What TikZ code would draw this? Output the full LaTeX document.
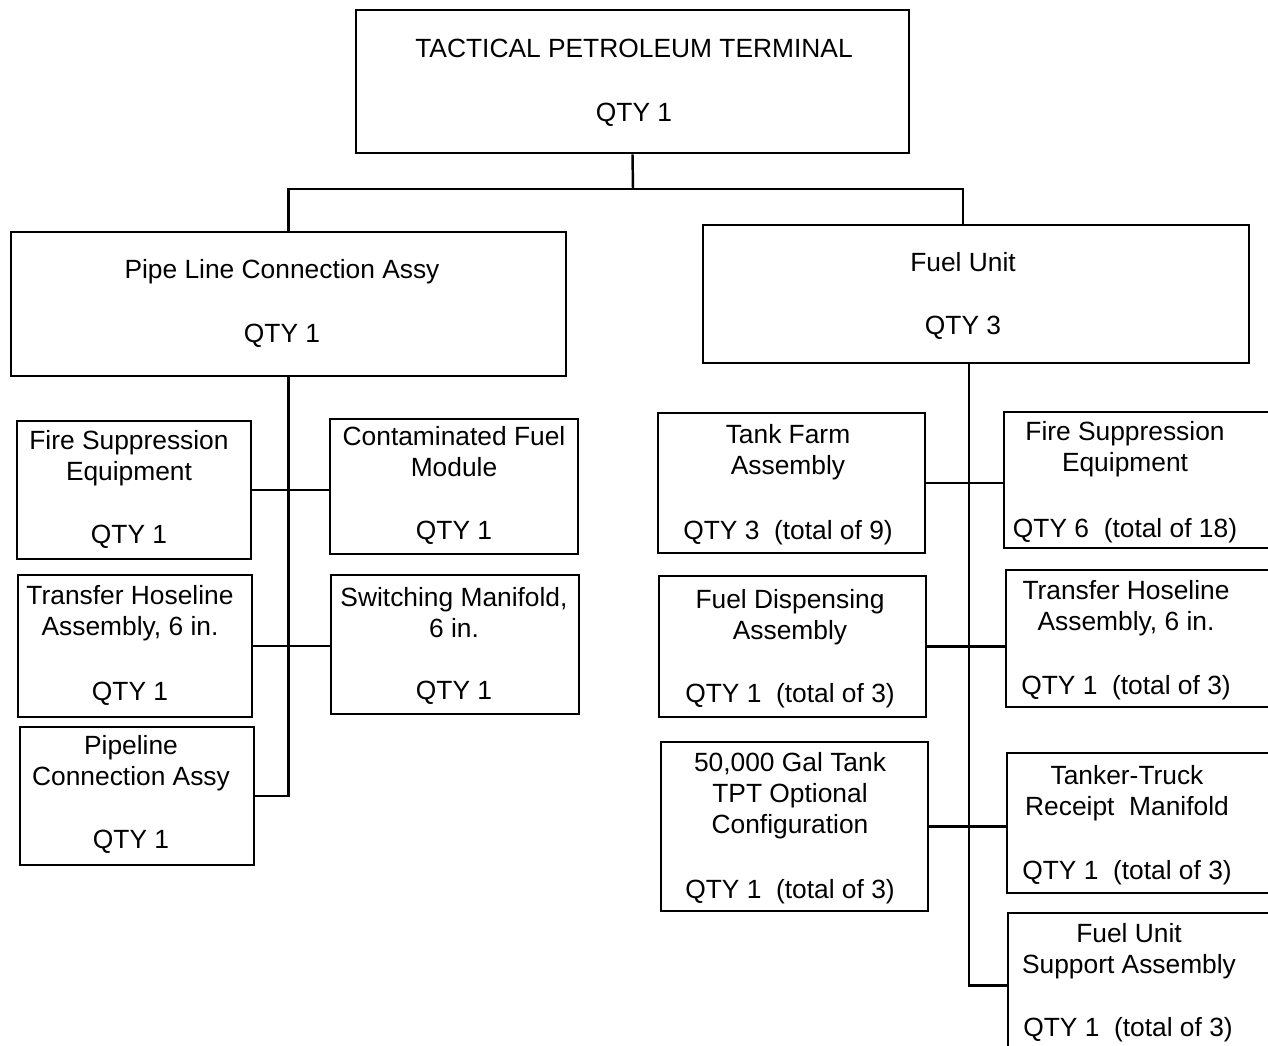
\documentclass[tikz,border=0pt]{standalone}
\usepackage{fontspec}
\setmainfont{Liberation Sans}
\usetikzlibrary{fit}

\begin{document}
\begin{tikzpicture}[x=0.02cm, y=-0.02cm,
    box/.style={draw, line width=1.6pt, inner sep=0pt},
    link/.style={line width=1.4pt},
    lbl/.style={align=center, inner sep=0pt, font=\fontsize{15}{17.6}\selectfont},
    qty/.style={lbl, anchor=base}]
    \useasboundingbox (0,0) rectangle (1268,1045);
    \clip (0,0) rectangle (1268,1045);

    % Top level
    \node[box, fit={(356,10) (909,153)}] (tpt) {};
    \node[lbl] (tptT) at (634,48) {TACTICAL PETROLEUM TERMINAL};
    \node[qty] (tptQ) at (634,121) {QTY 1};

    % Second level
    \node[box, fit={(11,232) (566,376)}] (pla) {};
    \node[lbl] (plaT) at (282,272) {Pipe Line Connection Assy};
    \node[qty] (plaQ) at (282,342) {QTY 1};

    \node[box, fit={(703,225) (1249,363)}] (fu) {};
    \node[lbl] (fuT) at (963,262) {Fuel Unit};
    \node[qty] (fuQ) at (963,334) {QTY 3};

    \coordinate (bus) at (633,189);
    \coordinate (fuin) at (963,225);
    \draw[link] (tpt.south) -- (bus);
    \draw[link] (pla.north) |- (bus) -| (fuin);

    % Pipe line connection branch
    \node[box, fit={(17,421) (251,559)}] (fse) {};
    \node[lbl] (fseT) at (129,458) {Fire Suppression\\Equipment};
    \node[qty] (fseQ) at (129,543) {QTY 1};

    \node[box, fit={(18,575) (252,717)}] (thl) {};
    \node[lbl] (thlT) at (130,613) {Transfer Hoseline\\Assembly, 6 in.};
    \node[qty] (thlQ) at (130,700) {QTY 1};

    \node[box, fit={(20,727) (254,865)}] (pca) {};
    \node[lbl] (pcaT) at (131,763) {Pipeline\\Connection Assy};
    \node[qty] (pcaQ) at (131,848) {QTY 1};

    \node[box, fit={(330,419) (578,554)}] (cfm) {};
    \node[lbl] (cfmT) at (454,452) {Contaminated Fuel\\Module};
    \node[qty] (cfmQ) at (454,539) {QTY 1};

    \node[box, fit={(331,575) (579,714)}] (swm) {};
    \node[lbl] (swmT) at (454,613) {Switching Manifold,\\6 in.};
    \node[qty] (swmQ) at (454,699) {QTY 1};

    \draw[link] (pla.south) |- (pca.east);
    \draw[link] (fse.east) -- (fse.east -| cfm.west);
    \draw[link] (thl.east) -- (thl.east -| swm.west);

    % Fuel unit branch
    \node[box, fit={(658,413) (925,553)}] (tfa) {};
    \node[lbl] (tfaT) at (788,452) {Tank Farm\\Assembly};
    \node[qty] (tfaQ) at (788,539) {QTY 3~~(total of 9)};

    \node[box, fit={(659,576) (926,717)}] (fda) {};
    \node[lbl] (fdaT) at (790,617) {Fuel Dispensing\\Assembly};
    \node[qty] (fdaQ) at (790,702) {QTY 1~~(total of 3)};

    \node[box, fit={(661,742) (928,911)}] (gal) {};
    \node[lbl] (galT) at (790,796) {50,000 Gal Tank\\TPT Optional\\Configuration};
    \node[qty] (galQ) at (790,898) {QTY 1~~(total of 3)};

    \node[box, fit={(1004,412) (1280,548)}] (fse2) {};
    \node[lbl] (fse2T) at (1125,449) {Fire Suppression\\Equipment};
    \node[qty] (fse2Q) at (1125,537) {QTY 6~~(total of 18)};

    \node[box, fit={(1006,570) (1280,707)}] (thl2) {};
    \node[lbl] (thl2T) at (1126,608) {Transfer Hoseline\\Assembly, 6 in.};
    \node[qty] (thl2Q) at (1126,694) {QTY 1~~(total of 3)};

    \node[box, fit={(1007,753) (1280,893)}] (ttr) {};
    \node[lbl] (ttrT) at (1127,793) {Tanker-Truck\\Receipt~~Manifold};
    \node[qty] (ttrQ) at (1127,879) {QTY 1~~(total of 3)};

    \node[box, fit={(1008,913) (1280,1058)}] (fusa) {};
    \node[lbl] (fusaT) at (1129,951) {Fuel Unit\\Support Assembly};
    \node[qty] (fusaQ) at (1128,1036) {QTY 1~~(total of 3)};

    \coordinate (rtop) at (969,363);
    \draw[link] (rtop) |- (fusa.west);
    \draw[link] (tfa.east) -- (tfa.east -| fse2.west);
    \draw[link] (fda.east) -- (fda.east -| thl2.west);
    \draw[link] (gal.east) -- (gal.east -| ttr.west);
\end{tikzpicture}
\end{document}
